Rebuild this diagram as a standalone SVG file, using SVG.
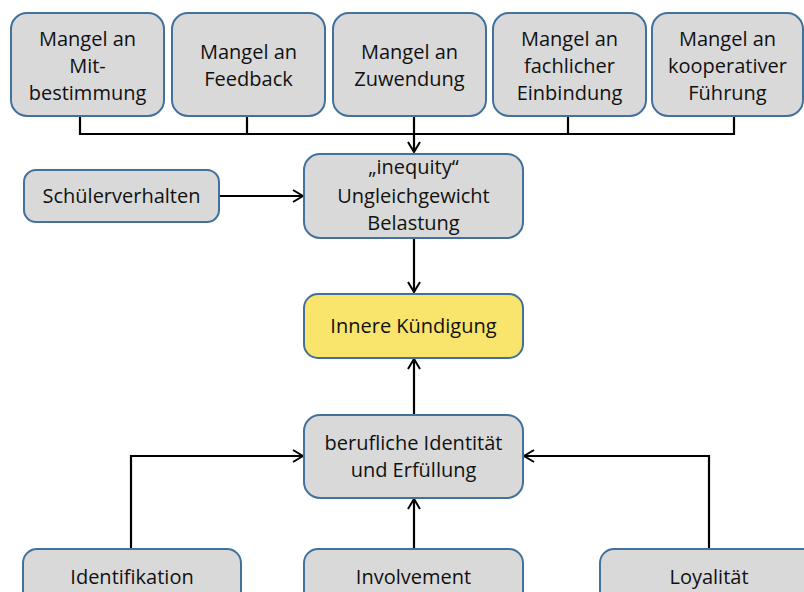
<svg xmlns="http://www.w3.org/2000/svg" width="804" height="592" viewBox="0 0 804 592">
  <style>
    .box { fill: #d9d9d9; stroke: #41719c; stroke-width: 2; }
    .key { fill: #f9e46c; stroke: #41719c; stroke-width: 2; }
    .lbl { font-family: "Open Sans", "Liberation Sans", sans-serif; font-size: 20px; fill: #111; text-anchor: middle; }
    .wire { fill: none; stroke: #000; stroke-width: 2.2; }
  </style>
  <defs>
    <marker id="arrow" viewBox="0 0 12 14" refX="11" refY="7" markerWidth="12" markerHeight="14" orient="auto" markerUnits="userSpaceOnUse">
      <path d="M1,1 L11,7 L1,13" fill="none" stroke="#000" stroke-width="2"/>
    </marker>
  </defs>
  <rect width="804" height="592" fill="#fff"/>

  <!-- connectors -->
  <g id="connectors">
    <path class="wire" d="M80,116 V134 H734 V116"/>
    <path class="wire" d="M247,116 V134"/>
    <path class="wire" d="M568,116 V134"/>
    <path class="wire" d="M414,116 V152" marker-end="url(#arrow)"/>
    <path class="wire" d="M219,196 H303" marker-end="url(#arrow)"/>
    <path class="wire" d="M414,238 V292" marker-end="url(#arrow)"/>
    <path class="wire" d="M414,414 V359" marker-end="url(#arrow)"/>
    <path class="wire" d="M131,549 V456 H303" marker-end="url(#arrow)"/>
    <path class="wire" d="M709,549 V456 H524" marker-end="url(#arrow)"/>
    <path class="wire" d="M414,549 V499" marker-end="url(#arrow)"/>
  </g>

  <!-- top row -->
  <g id="mitbestimmung">
    <rect class="box" x="11" y="13" width="153" height="103" rx="16"/>
    <text class="lbl" x="87.5" y="46">Mangel an</text>
    <text class="lbl" x="87.5" y="73">Mit-</text>
    <text class="lbl" x="87.5" y="100">bestimmung</text>
  </g>
  <g id="feedback">
    <rect class="box" x="172" y="13" width="153" height="103" rx="16"/>
    <text class="lbl" x="248.5" y="59">Mangel an</text>
    <text class="lbl" x="248.5" y="86">Feedback</text>
  </g>
  <g id="zuwendung">
    <rect class="box" x="333" y="13" width="153" height="103" rx="16"/>
    <text class="lbl" x="409.5" y="59">Mangel an</text>
    <text class="lbl" x="409.5" y="86">Zuwendung</text>
  </g>
  <g id="einbindung">
    <rect class="box" x="493" y="13" width="153" height="103" rx="16"/>
    <text class="lbl" x="569.5" y="46">Mangel an</text>
    <text class="lbl" x="569.5" y="73">fachlicher</text>
    <text class="lbl" x="569.5" y="100">Einbindung</text>
  </g>
  <g id="fuehrung">
    <rect class="box" x="652" y="13" width="151" height="103" rx="16"/>
    <text class="lbl" x="727.5" y="46">Mangel an</text>
    <text class="lbl" x="727.5" y="73">kooperativer</text>
    <text class="lbl" x="727.5" y="100">Führung</text>
  </g>

  <!-- middle -->
  <g id="schuelerverhalten">
    <rect class="box" x="24" y="170" width="195" height="52" rx="12"/>
    <text class="lbl" x="121.5" y="203">Schülerverhalten</text>
  </g>
  <g id="inequity">
    <rect class="box" x="304" y="154" width="219" height="84" rx="16"/>
    <text class="lbl" x="413.5" y="174">„inequity“</text>
    <text class="lbl" x="413.5" y="203">Ungleichgewicht</text>
    <text class="lbl" x="413.5" y="230">Belastung</text>
  </g>
  <g id="kuendigung">
    <rect class="key" x="304" y="294" width="219" height="64" rx="14"/>
    <text class="lbl" x="413.5" y="333">Innere Kündigung</text>
  </g>
  <g id="identitaet">
    <rect class="box" x="304" y="415" width="219" height="83" rx="16"/>
    <text class="lbl" x="413.5" y="450">berufliche Identität</text>
    <text class="lbl" x="413.5" y="477">und Erfüllung</text>
  </g>

  <!-- bottom row -->
  <g id="identifikation">
    <rect class="box" x="23" y="549" width="218" height="70" rx="14"/>
    <text class="lbl" x="132" y="584">Identifikation</text>
  </g>
  <g id="involvement">
    <rect class="box" x="304" y="549" width="219" height="70" rx="14"/>
    <text class="lbl" x="413.5" y="584">Involvement</text>
  </g>
  <g id="loyalitaet">
    <rect class="box" x="600" y="549" width="218" height="70" rx="14"/>
    <text class="lbl" x="709" y="584">Loyalität</text>
  </g>
</svg>
